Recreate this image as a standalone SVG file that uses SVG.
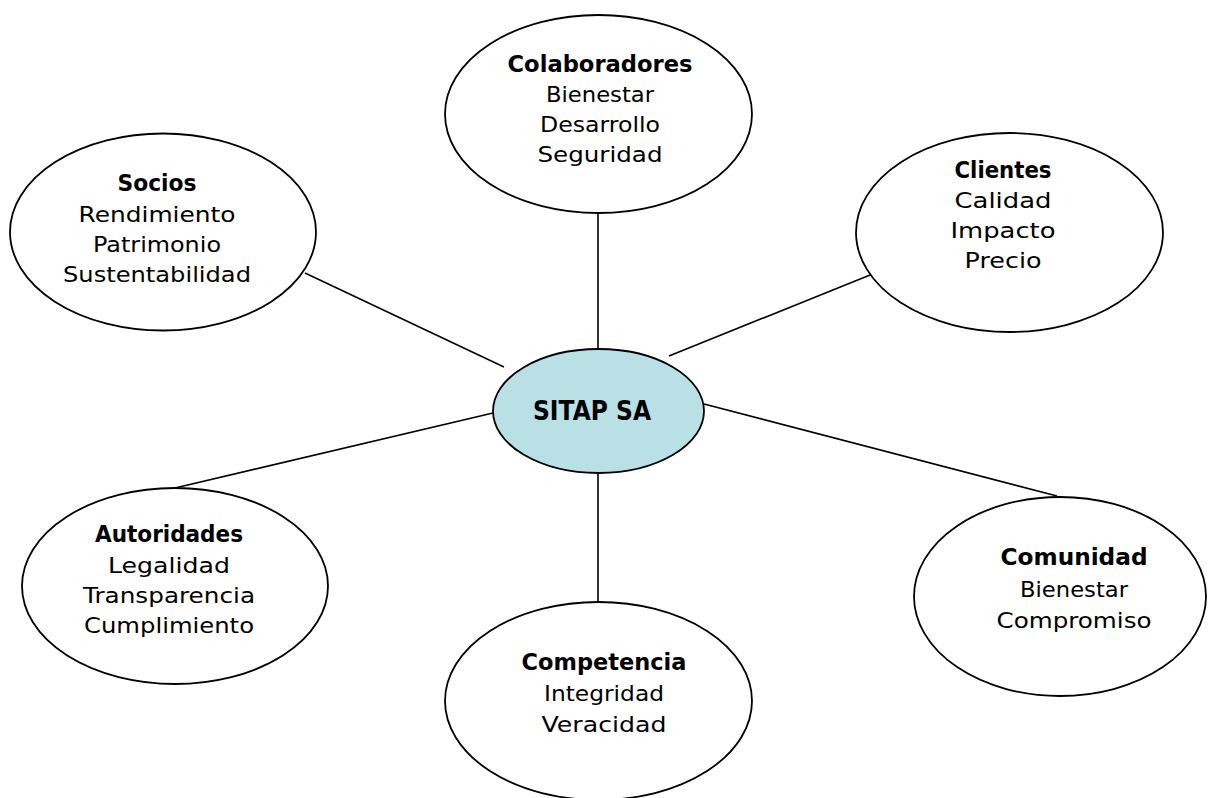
<svg xmlns="http://www.w3.org/2000/svg" width="1213" height="798" viewBox="0 0 1213 798">
<style>
.node{fill:#ffffff;stroke:#000000;stroke-width:1.8}
.hub{fill:#b9e0e4;stroke:#000000;stroke-width:1.8}
.edge{stroke:#000000;stroke-width:1.6;fill:none}
text{font-family:"DejaVu Sans","Liberation Sans",sans-serif;font-size:21.5px;fill:#000000;text-anchor:middle}
.b{font-weight:bold;font-size:23px}
.hubt{font-weight:bold;font-size:27px}
</style>
<rect x="0" y="0" width="1213" height="798" fill="#ffffff"/>
<g id="connectors">
<line class="edge" x1="305" y1="273" x2="504" y2="367"/>
<line class="edge" x1="598" y1="213" x2="598" y2="349"/>
<line class="edge" x1="669" y1="356" x2="875" y2="273"/>
<line class="edge" x1="493" y1="413" x2="175" y2="488"/>
<line class="edge" x1="704" y1="404" x2="1057" y2="496"/>
<line class="edge" x1="598" y1="473" x2="598" y2="602"/>
</g>
<g id="socios">
<ellipse class="node" cx="163" cy="232" rx="153" ry="98.5"/>
<text x="157" y="191" class="b" textLength="79" lengthAdjust="spacingAndGlyphs">Socios</text>
<text x="157" y="222" textLength="157" lengthAdjust="spacingAndGlyphs">Rendimiento</text>
<text x="157" y="252" textLength="128" lengthAdjust="spacingAndGlyphs">Patrimonio</text>
<text x="157" y="282" textLength="188" lengthAdjust="spacingAndGlyphs">Sustentabilidad</text>
</g>
<g id="colaboradores">
<ellipse class="node" cx="598.5" cy="114" rx="153.5" ry="99"/>
<text x="600" y="72" class="b" textLength="185" lengthAdjust="spacingAndGlyphs">Colaboradores</text>
<text x="600" y="102" textLength="108" lengthAdjust="spacingAndGlyphs">Bienestar</text>
<text x="600" y="132" textLength="120" lengthAdjust="spacingAndGlyphs">Desarrollo</text>
<text x="600" y="162" textLength="125" lengthAdjust="spacingAndGlyphs">Seguridad</text>
</g>
<g id="clientes">
<ellipse class="node" cx="1009.5" cy="232.5" rx="153.5" ry="99.5"/>
<text x="1003" y="178" class="b" textLength="97" lengthAdjust="spacingAndGlyphs">Clientes</text>
<text x="1003" y="208" textLength="97" lengthAdjust="spacingAndGlyphs">Calidad</text>
<text x="1003" y="238" textLength="105" lengthAdjust="spacingAndGlyphs">Impacto</text>
<text x="1003" y="268" textLength="77" lengthAdjust="spacingAndGlyphs">Precio</text>
</g>
<g id="sitap">
<ellipse class="hub" cx="598.5" cy="411" rx="105.5" ry="62"/>
<text x="592" y="420" class="hubt" textLength="118" lengthAdjust="spacingAndGlyphs">SITAP SA</text>
</g>
<g id="autoridades">
<ellipse class="node" cx="175" cy="586" rx="153" ry="98"/>
<text x="169" y="542" class="b" textLength="148" lengthAdjust="spacingAndGlyphs">Autoridades</text>
<text x="169" y="573" textLength="122" lengthAdjust="spacingAndGlyphs">Legalidad</text>
<text x="169" y="603" textLength="172" lengthAdjust="spacingAndGlyphs">Transparencia</text>
<text x="169" y="633" textLength="170" lengthAdjust="spacingAndGlyphs">Cumplimiento</text>
</g>
<g id="comunidad">
<ellipse class="node" cx="1060" cy="596.5" rx="146" ry="99.5"/>
<text x="1074" y="565" class="b" textLength="147" lengthAdjust="spacingAndGlyphs">Comunidad</text>
<text x="1074" y="597" textLength="108" lengthAdjust="spacingAndGlyphs">Bienestar</text>
<text x="1074" y="628" textLength="155" lengthAdjust="spacingAndGlyphs">Compromiso</text>
</g>
<g id="competencia">
<ellipse class="node" cx="598.5" cy="701" rx="153.5" ry="99"/>
<text x="604" y="670" class="b" textLength="165" lengthAdjust="spacingAndGlyphs">Competencia</text>
<text x="604" y="701" textLength="120" lengthAdjust="spacingAndGlyphs">Integridad</text>
<text x="604" y="732" textLength="125" lengthAdjust="spacingAndGlyphs">Veracidad</text>
</g>
</svg>
